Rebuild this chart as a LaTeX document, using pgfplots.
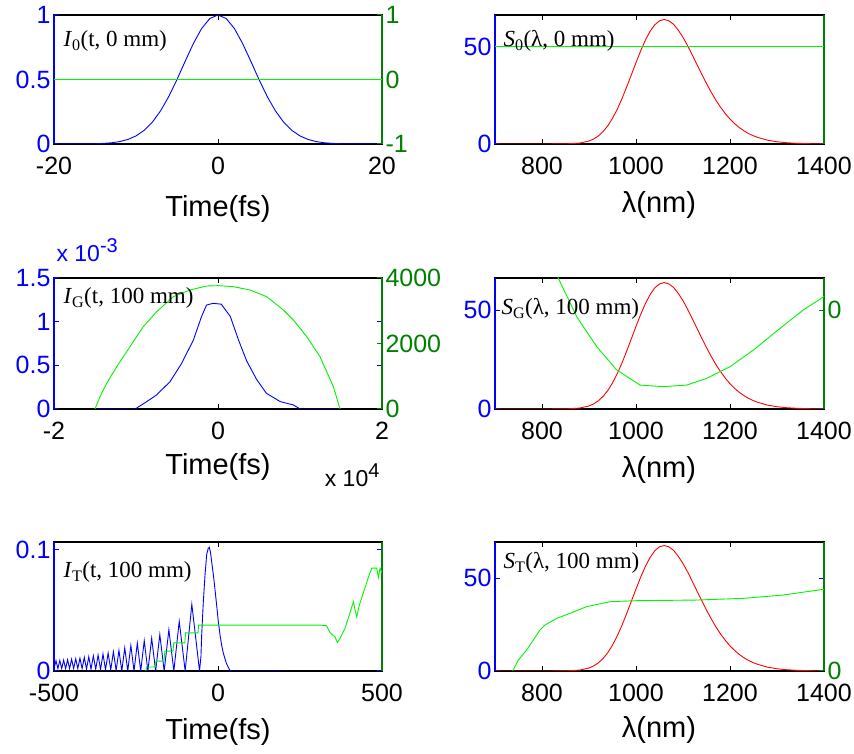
\documentclass[border=0pt]{standalone}
\usepackage{pgfplots}
\pgfplotsset{compat=1.18}
\usepackage{fontspec}
\setmainfont{Liberation Sans}
\newfontfamily\serifrm{Liberation Serif}

\definecolor{lineblue}{RGB}{0,0,255}
\definecolor{linegreen}{RGB}{0,245,0}
\definecolor{axisgreen}{RGB}{0,128,0}
\definecolor{linered}{RGB}{255,0,0}

\pgfplotsset{
  panel/.style={scale only axis, height=129pt, anchor=south west,
    enlargelimits=false, tick align=inside, major tick length=5pt,
    scaled x ticks=false, scaled y ticks=false,
    every axis plot/.append style={no markers, line width=0.9pt},
    ticklabel style={font=\fontsize{25}{28}\selectfont}},
  frame/.style={panel, axis line style={black, line width=1.3pt},
    ytick=\empty, ymin=0, ymax=1, xtick pos=both,
    tick style={black, line width=1pt},
    xticklabel style={yshift=-10pt}},
  lefty/.style={panel, hide x axis,
    y axis line style={lineblue, line width=1.3pt}, ytick pos=both,
    tick style={lineblue, line width=1pt},
    yticklabel style={text=lineblue}},
  righty/.style={panel, hide x axis, axis y line*=right, tick align=inside,
    y axis line style={axisgreen, line width=1.3pt},
    tick style={axisgreen, line width=1pt},
    yticklabel style={text=axisgreen}},
}

% spectral intensity, 700-1400 nm
\pgfplotstableread{
lam S
700 0
800 0
850 0.05
880 0.46
900 1.54
910 2.6
920 4.15
930 6.4
940 9.36
950 13.2
960 17.8
970 23.2
980 29.2
990 35.5
1000 41.8
1010 47.9
1020 53.4
1030 57.9
1040 61.3
1050 63.3
1060 64.0
1070 63.3
1080 61.5
1090 58.5
1100 54.8
1110 50.4
1120 45.6
1130 40.7
1140 35.8
1150 31.1
1160 26.6
1170 22.5
1180 18.9
1190 15.6
1200 12.8
1210 10.4
1220 8.4
1230 6.7
1240 5.3
1250 4.2
1260 3.3
1280 1.96
1300 1.14
1320 0.66
1340 0.37
1360 0.2
1380 0.1
1400 0.05
}\specbase

\pgfplotstableread{
lam S
700 0
800 0
850 0.05
880 0.49
900 1.62
910 2.74
920 4.38
930 6.75
940 9.87
950 13.9
960 18.8
970 24.5
980 30.8
990 37.5
1000 44.1
1010 50.5
1020 56.3
1030 61.1
1040 64.7
1050 66.8
1060 67.5
1070 66.8
1080 64.9
1090 61.7
1100 57.8
1110 53.2
1120 48.1
1130 42.9
1140 37.8
1150 32.8
1160 28.1
1170 23.7
1180 19.9
1190 16.5
1200 13.5
1210 11.0
1220 8.86
1230 7.07
1240 5.59
1250 4.43
1260 3.48
1280 2.07
1300 1.20
1320 0.70
1340 0.39
1360 0.21
1380 0.11
1400 0.05
}\spectrans

\newcommand{\inlab}[1]{{\serifrm\fontsize{23}{26}\selectfont #1}}

\begin{document}
\begin{tikzpicture}
\useasboundingbox (0pt,0pt) rectangle (854pt,754pt);

%% ---------- row 1, left: I_0(t) ----------
\begin{axis}[frame, width=328pt, at={(54pt,610pt)}, xmin=-20, xmax=20,
  xtick={-20,0,20}, xticklabels={-20,0,20}]
\end{axis}
\begin{axis}[lefty, width=328pt, at={(54pt,610pt)}, xmin=-20, xmax=20,
  ymin=0, ymax=1, ytick={0,0.5,1}, yticklabels={0,0.5,1}]
\addplot[lineblue] coordinates {
(-20,0) (-15,0.002) (-14,0.0044) (-13,0.0092) (-12,0.0184) (-11,0.0349)
(-10,0.0625) (-9,0.1058) (-8,0.1695) (-7,0.257) (-6,0.3686) (-5,0.5)
(-4,0.6417) (-3,0.7792) (-2,0.895) (-1,0.9727) (0,1)
(1,0.9727) (2,0.895) (3,0.7792) (4,0.6417) (5,0.5) (6,0.3686) (7,0.257)
(8,0.1695) (9,0.1058) (10,0.0625) (11,0.0349) (12,0.0184) (13,0.0092)
(14,0.0044) (15,0.002) (20,0)};
\end{axis}
\begin{axis}[righty, width=328pt, at={(54pt,610pt)}, xmin=-20, xmax=20,
  ymin=-1, ymax=1, ytick={-1,0,1}, yticklabels={-1,0,1}]
\addplot[linegreen] coordinates {(-20,0) (20,0)};
\end{axis}
\node[anchor=base west] at (60pt,707.3pt) {\inlab{\textit{I}\textsubscript{0}(t, 0 mm)}};
\node[anchor=base, font=\fontsize{29}{32}\selectfont] at (218pt,537.3pt) {Time(fs)};

%% ---------- row 1, right: S_0(lambda) ----------
\begin{axis}[frame, width=329pt, at={(495pt,610pt)}, xmin=700, xmax=1400,
  xtick={800,1000,1200,1400}, xticklabels={800,1000,1200,1400}]
\end{axis}
\begin{axis}[lefty, width=329pt, at={(495pt,610pt)}, xmin=700, xmax=1400,
  ymin=0, ymax=66.3, ytick={0,50}, yticklabels={0,50}]
\addplot[linered] table[x=lam, y=S] {\specbase};
\end{axis}
\begin{axis}[righty, width=329pt, at={(495pt,610pt)}, xmin=700, xmax=1400,
  ymin=-50, ymax=16.3, ytick=\empty]
\addplot[linegreen] coordinates {(700,0) (1400,0)};
\end{axis}
\node[anchor=base west] at (500pt,707.3pt) {\inlab{\textit{S}\textsubscript{0}(λ, 0 mm)}};
\node[anchor=base, font=\fontsize{29}{32}\selectfont] at (659pt,541pt) {λ(nm)};

%% ---------- row 2, left: I_G(t) ----------
\begin{axis}[frame, width=328pt, height=131pt, at={(54pt,345pt)}, xmin=-20000, xmax=20000,
  xtick={-20000,0,20000}, xticklabels={-2,0,2}]
\end{axis}
\begin{axis}[lefty, width=328pt, height=131pt, at={(54pt,345pt)}, xmin=-20000, xmax=20000,
  ymin=0, ymax=0.0015, ytick={0,0.0005,0.001,0.0015}, yticklabels={0,0.5,1,1.5}]
\addplot[lineblue] coordinates {
(-15000,0) (-10100,0) (-8700,0.000084) (-7500,0.00016) (-5850,0.000313)
(-4430,0.000523) (-3000,0.00079) (-2000,0.00106) (-1400,0.00119)
(-600,0.00121) (400,0.0012) (1500,0.00106) (2500,0.00079) (3500,0.00055)
(4700,0.00034) (5900,0.00018) (7600,0.000084) (9200,0.000046)
(10000,0) (15000,0)};
\end{axis}
\begin{axis}[righty, width=328pt, height=131pt, at={(54pt,345pt)}, xmin=-20000, xmax=20000,
  ymin=0, ymax=4000, ytick={0,2000,4000}, yticklabels={0,2000,4000}]
\addplot[linegreen] coordinates {
(-15000,0) (-14390,376) (-13570,785) (-12350,1292) (-10730,1903)
(-9110,2513) (-7480,2971) (-5450,3429) (-3410,3634) (-1380,3756)
(40,3766) (1870,3735) (3900,3634) (5940,3429) (7970,3023) (9190,2718)
(10820,2208) (12440,1597) (14070,681) (14880,0)};
\end{axis}
\node[anchor=base west] at (60pt,450pt) {\inlab{\textit{I}\textsubscript{G}(t, 100 mm)}};
\node[anchor=base, font=\fontsize{29}{32}\selectfont] at (218pt,279pt) {Time(fs)};
\node[anchor=base west, text=lineblue, font=\fontsize{23}{26}\selectfont] at (53pt,492pt)
  {x 10\raisebox{9pt}{\fontsize{20}{22}\selectfont -3}};
\node[anchor=base east, font=\fontsize{23}{26}\selectfont] at (383pt,267.3pt)
  {x 10\raisebox{9pt}{\fontsize{20}{22}\selectfont 4}};

%% ---------- row 2, right: S_G(lambda) ----------
\begin{axis}[frame, width=329pt, height=131pt, at={(495pt,345pt)}, xmin=700, xmax=1400,
  xtick={800,1000,1200,1400}, xticklabels={800,1000,1200,1400}]
\end{axis}
\begin{axis}[lefty, width=329pt, height=131pt, at={(495pt,345pt)}, xmin=700, xmax=1400,
  ymin=0, ymax=66.3, ytick={0,50}, yticklabels={0,50}]
\addplot[linered] table[x=lam, y=S] {\specbase};
\end{axis}
\begin{axis}[righty, width=329pt, height=131pt, at={(495pt,345pt)}, xmin=700, xmax=1400,
  ymin=-50, ymax=16.3, ytick={0}, yticklabels={0}]
\addplot[linegreen] coordinates {
(820,24) (834.7,16.2) (873.8,-3.26) (916.3,-18.4) (958.9,-30.2)
(1008.5,-37.9) (1058,-38.7) (1107.9,-37.9) (1150.4,-34.5) (1200,-28.6)
(1249.6,-20.2) (1306.4,-9.2) (1356,0.12) (1400,6.9)};
\end{axis}
\node[anchor=base west] at (498pt,439.5pt) {\inlab{\textit{S}\textsubscript{G}(λ, 100 mm)}};
\node[anchor=base, font=\fontsize{29}{32}\selectfont] at (659pt,276pt) {λ(nm)};

%% ---------- row 3, left: I_T(t) ----------
\begin{axis}[frame, width=328pt, at={(54pt,83pt)}, xmin=-500, xmax=500,
  xtick={-500,0,500}, xticklabels={-500,0,500}]
\end{axis}
\begin{axis}[lefty, width=328pt, at={(54pt,83pt)}, xmin=-500, xmax=500,
  ymin=0, ymax=0.1064, ytick={0,0.1}, yticklabels={0,0.1}]
\addplot[lineblue] coordinates {
(-500,0.002)
(-493.8,0.0085) (-488.1,0.002) (-482.3,0.0087) (-476.5,0.002)
(-470.6,0.009) (-464.6,0.002) (-458.6,0.0093) (-452.5,0.002)
(-446.3,0.0097) (-440.1,0.002) (-433.8,0.0101) (-427.4,0.002)
(-420.9,0.0106) (-414.3,0.002) (-407.6,0.0112) (-400.9,0.0015)
(-394.0,0.0118) (-387.1,0.0015) (-380.0,0.0125) (-372.8,0.0015)
(-365.5,0.0132) (-358.1,0.0012) (-350.6,0.014) (-342.9,0.001)
(-335.0,0.0148) (-327.0,0.001) (-318.9,0.0158) (-310.5,0.0005)
(-302.0,0.017) (-293.3,0) (-284.3,0.019) (-275.1,0)
(-265.7,0.021) (-256.0,0) (-246.0,0.023) (-235.6,0)
(-224.9,0.025) (-213.8,0) (-202.2,0.027) (-190.1,0)
(-177.4,0.030) (-164.1,0) (-149.8,0.034) (-134.6,0)
(-118.2,0.041) (-100.1,0) (-79.8,0.055) (-56.3,0)
(-52,0.012) (-49.7,0.030) (-44.8,0.057) (-39.6,0.079) (-34.5,0.096)
(-30,0.101) (-26.5,0.102) (-23,0.098) (-19.2,0.090) (-14,0.079)
(-9.1,0.067) (-4,0.054) (0.9,0.041) (6,0.030) (11.3,0.021) (16,0.015)
(21.4,0.010) (26,0.006) (31.5,0.003) (36,0.0005) (40,0) (205,0)};
\end{axis}
\begin{axis}[righty, width=328pt, at={(54pt,83pt)}, xmin=-500, xmax=500,
  ymin=0, ymax=1, ytick=\empty]
\addplot[linegreen] coordinates {
(-220,0) (-218,0.031) (-191,0.031) (-189,0.076) (-165,0.076)
(-162,0.154) (-137,0.154) (-135,0.218) (-101,0.218) (-99,0.296)
(-61,0.296) (-59,0.356) (311,0.356) (331,0.351) (341,0.299)
(349.6,0.278) (356.8,0.265) (363.8,0.221) (372,0.252) (387,0.330)
(397,0.408) (408,0.498) (413,0.537) (418,0.47) (423,0.42) (431,0.512)
(441,0.590) (451,0.667) (461,0.745) (469,0.797) (484,0.797)
(489,0.725) (494,0.797) (499,0.766) (500,0.77)};
\end{axis}
\node[anchor=base west] at (60pt,176.7pt) {\inlab{\textit{I}\textsubscript{T}(t, 100 mm)}};
\node[anchor=base, font=\fontsize{29}{32}\selectfont] at (218pt,14pt) {Time(fs)};

%% ---------- row 3, right: S_T(lambda) ----------
\begin{axis}[frame, width=329pt, at={(495pt,83pt)}, xmin=700, xmax=1400,
  xtick={800,1000,1200,1400}, xticklabels={800,1000,1200,1400}]
\end{axis}
\begin{axis}[lefty, width=329pt, at={(495pt,83pt)}, xmin=700, xmax=1400,
  ymin=0, ymax=69.4, ytick={0,50}, yticklabels={0,50}]
\addplot[linered] table[x=lam, y=S] {\spectrans};
\end{axis}
\begin{axis}[righty, width=329pt, at={(495pt,83pt)}, xmin=700, xmax=1400,
  ymin=0, ymax=1, ytick={0}, yticklabels={0}]
\addplot[linegreen] coordinates {
(737.6,0) (749.6,0.085) (767.4,0.163) (795.7,0.318) (806.4,0.357)
(831.3,0.408) (859.6,0.447) (895.1,0.499) (944.7,0.537) (1000,0.545)
(1129.2,0.550) (1228.3,0.563) (1313.4,0.589) (1398.5,0.633) (1400,0.633)};
\end{axis}
\node[anchor=base west] at (500pt,185.7pt) {\inlab{\textit{S}\textsubscript{T}(λ, 100 mm)}};
\node[anchor=base, font=\fontsize{29}{32}\selectfont] at (659pt,16pt) {λ(nm)};

\end{tikzpicture}
\end{document}
